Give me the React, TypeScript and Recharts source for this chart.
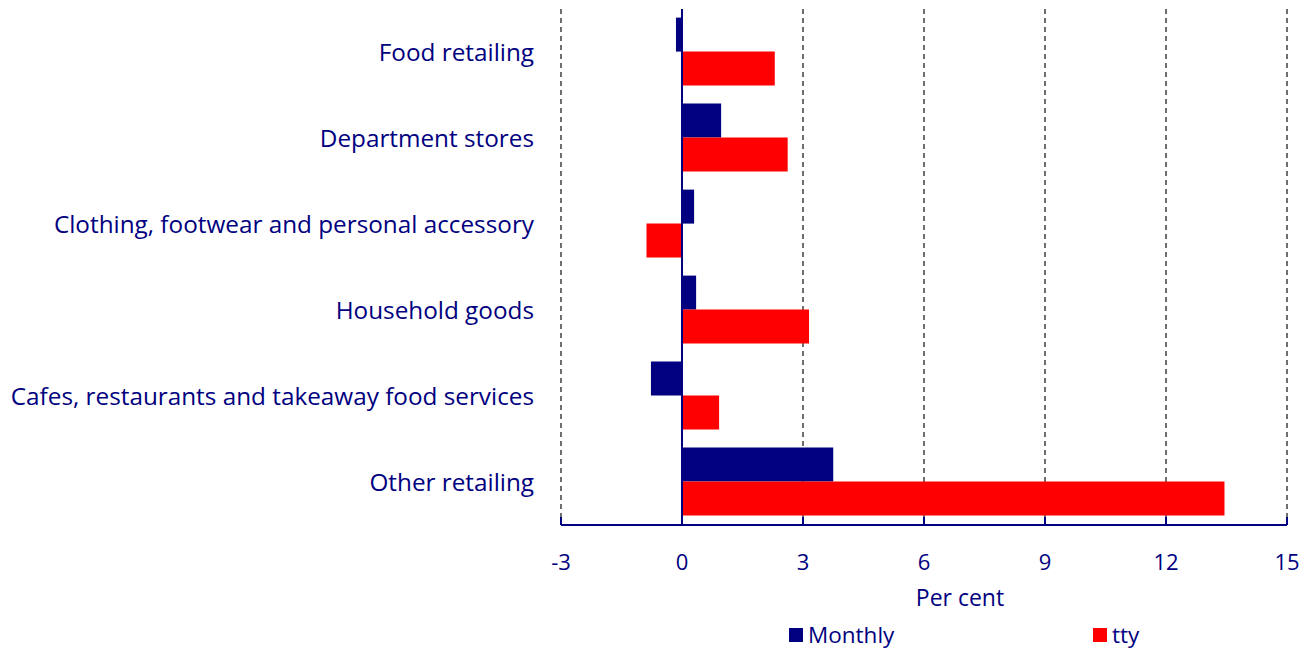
import React from 'react';
import {
  BarChart,
  Bar,
  XAxis,
  YAxis,
  CartesianGrid,
  ReferenceLine,
  Legend,
} from 'recharts';

const categories = [
  'Food retailing',
  'Department stores',
  'Clothing, footwear and personal accessory',
  'Household goods',
  'Cafes, restaurants and takeaway food services',
  'Other retailing',
];
const monthly = [-0.15, 0.97, 0.3, 0.35, -0.77, 3.75];
const tty = [2.3, 2.62, -0.88, 3.15, 0.92, 13.45];
const xTicks = [-3, 0, 3, 6, 9, 12, 15];

const data = categories.map((name, i) => ({ name, monthly: monthly[i], tty: tty[i] }));

const NAVY = '#000080';
const RED = '#FF0000';
const FONT = '"Open Sans", sans-serif';

function LegendBox() {
  const item = (color: string, text: string) => (
    <div style={{ display: 'flex', alignItems: 'center', height: 30 }}>
      <span style={{ width: 14, height: 14, background: color, display: 'inline-block', marginRight: 5 }} />
      <span style={{ color: NAVY, fontSize: 22.5, fontFamily: FONT, lineHeight: '30px' }}>{text}</span>
    </div>
  );
  return (
    <div
      style={{
        display: 'flex',
        alignItems: 'flex-start',
        height: 40,
        paddingLeft: 789,
        paddingTop: 10,
        boxSizing: 'border-box',
      }}
    >
      <div style={{ width: 304 }}>{item(NAVY, 'Monthly')}</div>
      <div>{item(RED, 'tty')}</div>
    </div>
  );
}

export default function App() {
  return (
    <div style={{ position: 'absolute', left: 0, top: 0, width: 1311, height: 650, background: '#fff' }}>
      <BarChart
        width={1311}
        height={650}
        data={data}
        layout="vertical"
        margin={{ top: 9, right: 24, left: 0, bottom: 0 }}
        barCategoryGap="10%"
        barGap={0}
      >
        <CartesianGrid horizontal={false} vertical stroke="#222" strokeWidth={1.3} strokeDasharray="5 4" />
        <XAxis
          type="number"
          domain={[-3, 15]}
          ticks={xTicks}
          height={85}
          stroke={NAVY}
          strokeWidth={2}
          tickSize={-8}
          tickMargin={37}
          tick={{ fill: NAVY, fontSize: 22, fontFamily: FONT }}
          label={{ value: 'Per cent', position: 'insideBottom', offset: 4, dx: 36, fill: NAVY, fontSize: 23, fontFamily: FONT }}
        />
        <YAxis
          type="category"
          dataKey="name"
          width={561}
          axisLine={false}
          tickLine={false}
          tickSize={0}
          tickMargin={27}
          tick={{ fill: NAVY, fontSize: 24.3, fontFamily: FONT }}
        />
        <Bar dataKey="monthly" name="Monthly" fill={NAVY} isAnimationActive={false} />
        <Bar dataKey="tty" name="tty" fill={RED} isAnimationActive={false} />
        <ReferenceLine x={0} stroke={NAVY} strokeWidth={2} />
        <Legend verticalAlign="bottom" content={() => <LegendBox />} />
      </BarChart>
    </div>
  );
}
